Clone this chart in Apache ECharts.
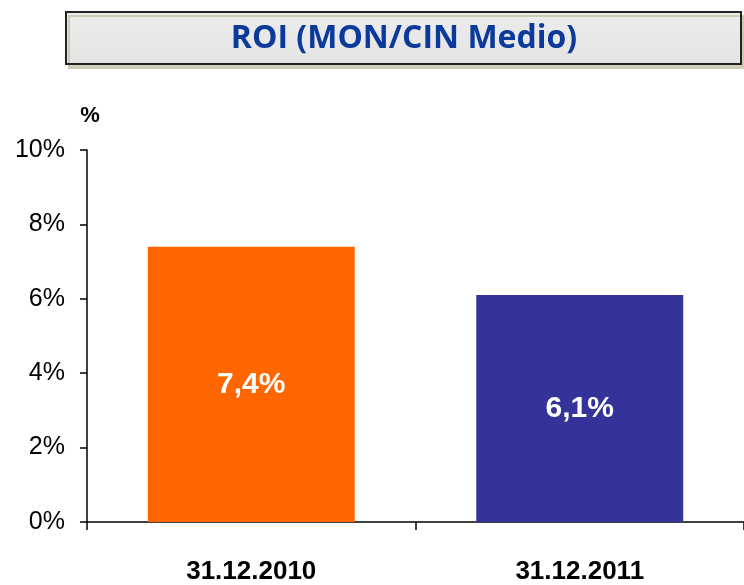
<!DOCTYPE html>
<html>
<head>
<meta charset="utf-8">
<script src="https://cdn.jsdelivr.net/npm/echarts@6/dist/echarts.min.js"></script>
<style>
  html, body { margin: 0; padding: 0; background: #fff; }
  #chart { width: 744px; height: 585px; }
</style>
</head>
<body>
<div id="chart"></div>
<script>
const categories = ['31.12.2010', '31.12.2011']
const roiValues = [7.4, 6.1]
const barColors = ['#FF6600', '#333399']
const titleText = 'ROI (MON/CIN Medio)'

const chart = echarts.init(document.getElementById('chart'))

chart.setOption({
  animation: false,
  graphic: [
    {
      type: 'rect',
      shape: { x: 66, y: 12, width: 675, height: 52 },
      style: {
        fill: {
          type: 'linear', x: 0, y: 0, x2: 0, y2: 1,
          colorStops: [
            { offset: 0, color: '#ececec' },
            { offset: 1, color: '#e4e4e4' }
          ]
        },
        stroke: '#222',
        lineWidth: 2,
        shadowColor: 'rgba(200,195,170,0.8)',
        shadowOffsetX: 3,
        shadowOffsetY: 4
      }
    },
    {
      type: 'text',
      x: 404,
      y: 39,
      style: {
        text: titleText,
        fill: '#0B3A9A',
        font: 'bold 32px "Open Sans", sans-serif',
        align: 'center',
        verticalAlign: 'middle'
      }
    },
    {
      type: 'text',
      x: 90,
      y: 116,
      style: {
        text: '%',
        fill: '#000',
        font: 'bold 22px "Liberation Sans", Arial, sans-serif',
        align: 'center',
        verticalAlign: 'middle'
      }
    }
  ],
  grid: { left: 87, width: 661, top: 150, bottom: 62 },
  xAxis: {
    type: 'category',
    data: categories,
    axisLine: { lineStyle: { color: '#000', width: 1.5 } },
    axisTick: { show: true, length: 8, lineStyle: { color: '#000', width: 1.5 } },
    axisLabel: {
      color: '#000',
      fontFamily: '"Liberation Sans", Arial, sans-serif',
      fontWeight: 'bold',
      fontSize: 26,
      margin: 37
    }
  },
  yAxis: {
    type: 'value',
    min: 0,
    max: 10,
    interval: 2,
    splitLine: { show: false },
    axisLine: { show: true, lineStyle: { color: '#000', width: 1.5 } },
    axisTick: { show: true, length: 7, lineStyle: { color: '#000', width: 1.5 } },
    axisLabel: {
      color: '#000',
      fontFamily: '"Liberation Sans", Arial, sans-serif',
      fontSize: 25,
      margin: 22,
      formatter: (v) => v + '%'
    }
  },
  series: [
    {
      type: 'bar',
      barWidth: '63%',
      data: roiValues.map((v, i) => ({ value: v, itemStyle: { color: barColors[i] } })),
      label: {
        show: true,
        position: 'inside',
        color: '#fff',
        fontFamily: '"Liberation Sans", Arial, sans-serif',
        fontWeight: 'bold',
        fontSize: 30,
        formatter: (p) => p.value.toFixed(1).replace('.', ',') + '%'
      }
    }
  ]
})
</script>
</body>
</html>
